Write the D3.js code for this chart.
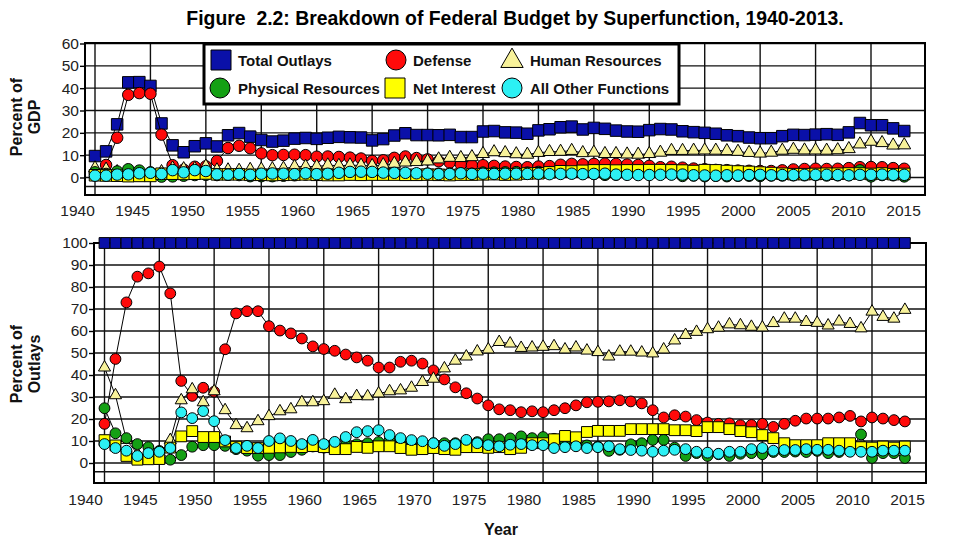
<!DOCTYPE html>
<html><head><meta charset="utf-8">
<script src="https://cdnjs.cloudflare.com/ajax/libs/d3/7.8.5/d3.min.js"></script>
<style>
body{margin:0;background:#fff}
svg{display:block}
text{font-family:"Liberation Sans",Arial,sans-serif}
</style>
</head><body>
<svg id="c" width="979" height="549"></svg>
<script>
// ---------------- DATA ----------------
const years = [1940,1941,1942,1943,1944,1945,1946,1947,1948,1949,
1950,1951,1952,1953,1954,1955,1956,1957,1958,1959,
1960,1961,1962,1963,1964,1965,1966,1967,1968,1969,
1970,1971,1972,1973,1974,1975,1976,1977,1978,1979,
1980,1981,1982,1983,1984,1985,1986,1987,1988,1989,
1990,1991,1992,1993,1994,1995,1996,1997,1998,1999,
2000,2001,2002,2003,2004,2005,2006,2007,2008,2009,
2010,2011,2012,2013];

const seriesNames = ["Total Outlays","Defense","Human Resources","Physical Resources","Net Interest","All Other Functions"];

// Percent of GDP (top panel)
const gdpTotal = [9.6,11.7,23.8,42.6,42.7,41.0,24.2,14.4,11.3,14.0,
15.3,13.9,18.9,19.9,18.3,16.8,16.1,16.5,17.4,17.7,
17.3,17.8,18.2,18.0,17.9,16.6,17.2,18.8,19.8,19.0,
19.0,18.9,19.1,18.1,18.1,20.6,20.8,20.2,20.1,19.6,
21.1,21.6,22.5,22.8,21.5,22.2,21.8,21.0,20.6,20.5,
21.2,21.7,21.5,20.7,20.3,20.0,19.6,18.9,18.5,17.9,
17.6,17.6,18.5,19.1,19.0,19.2,19.4,19.1,20.2,24.4,
23.4,23.4,22.0,20.8];
const gdpDefense = [1.7,5.6,17.8,37.0,37.8,37.5,19.2,5.5,3.5,4.8,
5.0,7.4,13.2,14.2,13.1,10.8,10.0,10.1,10.2,10.0,
9.3,9.4,9.2,8.9,8.5,7.4,7.7,8.8,9.4,8.7,
8.1,7.3,6.7,5.9,5.5,5.5,5.2,4.9,4.7,4.6,
4.9,5.1,5.7,6.1,5.9,6.1,6.2,6.1,5.8,5.6,
5.2,4.6,4.8,4.4,4.0,3.7,3.4,3.3,3.1,3.0,
2.9,2.9,3.2,3.6,3.8,3.9,3.8,3.9,4.2,4.6,
4.7,4.6,4.2,3.9];
const gdpHuman = [4.2,3.6,2.5,1.8,1.5,1.6,2.5,4.1,3.8,3.9,
5.0,3.3,3.3,3.1,3.5,3.6,3.8,4.0,4.8,4.9,
4.9,5.5,5.3,5.5,5.4,5.2,5.6,6.2,6.8,7.0,
7.3,8.2,8.9,8.8,9.2,10.6,11.4,11.0,10.5,10.3,
11.1,11.5,11.6,12.0,11.0,11.2,10.6,10.6,10.4,10.3,
10.6,11.2,12.0,12.0,12.1,12.2,12.1,11.9,11.6,11.1,
10.8,11.2,12.1,12.5,12.2,12.2,12.1,12.3,12.8,14.9,
16.1,15.5,14.4,14.5];
const gdpPhysical = [2.3,1.6,2.7,3.7,3.1,2.3,0.4,0.5,0.8,1.1,
1.2,1.1,1.2,1.1,0.6,0.6,0.6,0.8,1.0,1.3,
1.2,1.4,1.5,1.5,1.6,1.6,1.8,1.8,1.7,1.5,
1.7,1.7,1.7,1.7,1.7,2.2,2.2,2.3,2.4,2.2,
2.5,2.4,2.3,2.0,1.7,1.6,1.2,1.3,1.8,1.8,
2.2,2.3,1.5,0.7,0.9,0.6,0.8,0.6,0.8,0.8,
0.7,0.9,0.9,1.0,1.0,1.1,0.9,1.0,1.1,3.2,
0.5,1.1,1.0,0.5];
const gdpInterest = [1.0,0.9,0.8,0.6,0.7,0.7,1.7,1.7,1.6,1.7,
1.8,1.4,1.4,1.4,1.2,1.2,1.1,1.2,1.3,1.4,
1.2,1.1,1.1,1.3,1.2,1.3,1.3,1.3,1.2,1.2,
1.3,1.2,1.1,1.3,1.3,1.4,1.5,1.3,1.4,1.8,
1.9,2.3,2.8,2.7,3.0,3.2,3.2,3.1,3.2,3.2,
3.3,3.3,3.2,3.1,2.9,3.3,3.2,2.9,2.7,2.5,
2.2,2.0,1.7,1.5,1.5,1.6,1.7,1.7,1.8,1.8,
1.6,1.8,1.5,1.6];
const gdpOther = [0.8,0.8,1.3,1.4,1.9,2.1,1.6,3.3,2.3,3.3,
2.9,1.4,1.3,1.6,1.2,1.7,1.8,1.7,1.5,1.9,
1.5,1.7,2.1,2.5,2.6,2.5,2.2,2.1,2.1,1.9,
1.7,1.5,1.6,1.9,1.6,1.7,1.6,1.7,1.7,1.6,
1.7,1.5,1.6,1.7,1.5,1.6,1.7,1.3,1.2,1.1,
1.1,1.2,1.3,1.3,1.0,0.9,0.8,1.0,0.9,1.1,
1.2,1.0,1.1,1.1,1.2,1.2,1.2,1.1,1.0,1.2,
1.2,1.3,1.2,1.2];

// Percent of Outlays (bottom panel)
const pctTotal = [100,100,100,100,100,100,100,100,100,100,
100,100,100,100,100,100,100,100,100,100,
100,100,100,100,100,100,100,100,100,100,
100,100,100,100,100,100,100,100,100,100,
100,100,100,100,100,100,100,100,100,100,
100,100,100,100,100,100,100,100,100,100,
100,100,100,100,100,100,100,100,100,100,
100,100,100,100];
const pctDefense = [17.8,47.3,73.0,84.7,86.2,89.3,77.1,37.3,30.5,34.2,
32.4,51.7,68.0,69.0,69.0,62.2,60.2,58.9,56.6,53.0,
51.8,51.0,49.3,48.0,46.5,43.4,43.4,46.0,46.5,45.2,
42.1,38.0,34.4,31.7,29.3,26.2,24.4,24.0,23.1,23.5,
23.1,24.0,24.9,26.2,27.6,27.8,28.0,28.5,28.0,27.1,
24.0,20.7,21.7,21.1,19.5,18.4,17.8,18.0,17.2,17.3,
17.8,16.4,17.8,19.2,20.2,20.2,20.2,20.7,21.4,18.9,
20.7,20.2,19.5,18.9];
const pctHuman = [43.4,30.8,10.5,4.2,3.4,3.8,10.4,28.5,33.5,27.6,
32.6,24.0,17.2,15.8,19.0,21.3,23.5,24.4,27.6,27.6,
28.1,31.0,29.0,30.4,30.3,31.6,32.6,33.0,34.2,36.8,
38.3,43.0,46.5,48.4,50.7,51.6,55.0,54.3,52.3,52.5,
52.8,53.1,51.6,52.5,51.1,50.4,48.4,50.6,50.6,50.2,
49.8,51.6,55.7,58.2,59.6,60.8,61.5,63.0,62.6,61.9,
61.6,63.6,65.6,65.6,64.1,63.7,62.5,64.3,63.2,61.2,
68.8,66.4,65.6,69.6];
const pctPhysical = [24.9,13.5,11.3,8.6,7.2,5.5,1.5,3.6,7.4,8.1,
8.1,7.8,6.3,5.6,3.3,3.6,3.6,5.0,6.0,7.5,
7.0,7.8,8.0,8.5,9.0,9.5,10.5,9.5,8.5,8.0,
9.0,9.0,9.0,9.5,9.5,10.8,10.8,11.2,12.1,11.3,
11.8,11.0,10.2,8.8,8.0,7.4,5.5,6.0,8.5,9.0,
10.5,10.5,7.0,3.2,4.5,3.2,4.0,3.2,4.2,4.5,
4.0,5.0,5.0,5.2,5.0,5.5,4.5,5.0,5.5,13.0,
2.3,4.5,4.5,2.3];
const pctInterest = [10.4,8.0,3.2,1.5,1.7,1.8,7.0,12.1,14.5,11.8,
11.8,9.8,7.4,6.8,6.8,6.9,7.1,7.3,7.2,7.7,
7.2,6.3,6.3,7.3,6.9,7.6,7.6,6.8,6.0,6.3,
6.8,6.3,6.0,7.2,7.2,6.9,7.2,6.3,6.9,9.0,
9.0,10.8,12.3,11.7,14.1,14.6,14.6,14.6,15.4,15.4,
15.4,15.4,14.9,14.9,14.5,16.3,16.3,15.4,14.5,14.0,
12.7,11.3,9.0,8.1,8.1,8.1,9.0,9.0,9.0,7.2,
7.0,7.5,7.0,7.5];
const pctOther = [8.6,6.8,5.6,3.2,4.5,5.1,6.8,23.0,20.4,23.6,
19.0,10.4,6.8,7.8,6.8,10.0,11.2,10.0,8.6,10.5,
8.6,9.6,11.8,14.0,14.5,14.9,12.7,11.3,10.4,9.9,
9.0,7.8,8.6,10.5,9.0,8.1,7.6,8.3,8.6,8.1,
8.1,6.8,7.2,7.6,6.8,7.2,7.6,6.3,5.9,5.6,
5.1,5.6,6.0,6.3,5.1,4.7,4.2,5.1,5.1,6.3,
6.8,5.6,5.9,5.9,6.3,6.0,6.0,5.6,5.1,5.1,
5.1,5.6,5.6,5.6];

const xTickLabels = [1940,1945,1950,1955,1960,1965,1970,1975,1980,1985,1990,1995,2000,2005,2010,2015];
const gridYears = [1940,1945,1950,1955,1960,1965,1970,1975,1980,1985,1990,1995,2000,2005,2010];
const gdpTicks = [0,10,20,30,40,50,60];
const outlayTicks = [0,10,20,30,40,50,60,70,80,90,100];

// ---------------- STYLE ----------------
const seriesStyle = [
  {shape: d3.symbolSquare,   fill: "#0a10a8"},
  {shape: d3.symbolCircle,   fill: "#ff0a0a"},
  {shape: d3.symbolTriangle, fill: "#f8f29a"},
  {shape: d3.symbolCircle,   fill: "#14a014"},
  {shape: d3.symbolSquare,   fill: "#ffff00"},
  {shape: d3.symbolCircle,   fill: "#2cf0f4"}
];
function markerSize(shape, s) { // s = approximate width in px
  if (shape === d3.symbolSquare) return s * s;
  if (shape === d3.symbolCircle) return Math.PI * (s / 2) * (s / 2);
  return Math.sqrt(3) / 4 * s * s * 1.25;
}
const FONT = '"Liberation Sans", Arial, sans-serif';

const svg = d3.select("#c");
svg.append("rect").attr("width", 979).attr("height", 549).attr("fill", "#fff");

// ---------------- PANELS ----------------
const panels = [
  {
    frame: {l: 85, r: 925, t: 43, b: 195},
    x: d3.scaleLinear().domain([1940, 2010]).range([95, 871]),
    xLab: d3.scaleLinear().domain([1940, 2015]).range([77, 903]),
    y: d3.scaleLinear().domain([0, 60]).range([177.5, 43.5]),
    ticks: gdpTicks, extraLine: -4, labY: 219, mk: 11.5,
    data: [gdpTotal, gdpDefense, gdpHuman, gdpPhysical, gdpInterest, gdpOther]
  },
  {
    frame: {l: 94, r: 926, t: 243, b: 483},
    x: d3.scaleLinear().domain([1940, 2010]).range([104.5, 872]),
    xLab: d3.scaleLinear().domain([1940, 2015]).range([85, 907]),
    y: d3.scaleLinear().domain([0, 100]).range([463, 243]),
    ticks: outlayTicks, extraLine: -4, labY: 508, mk: 10.8,
    data: [pctTotal, pctDefense, pctHuman, pctPhysical, pctInterest, pctOther]
  }
];

panels.forEach(p => {
  const g = svg.append("g");
  const f = p.frame;
  // grid
  g.selectAll("line.vg").data(gridYears).join("line")
    .attr("x1", d => p.x(d)).attr("x2", d => p.x(d))
    .attr("y1", f.t).attr("y2", f.b)
    .attr("stroke", "#111").attr("stroke-width", 1.4);
  g.selectAll("line.hg").data(p.ticks.concat([p.extraLine])).join("line")
    .attr("x1", f.l).attr("x2", f.r)
    .attr("y1", d => p.y(d)).attr("y2", d => p.y(d))
    .attr("stroke", "#111").attr("stroke-width", 1.4);
  // frame
  g.append("rect").attr("x", f.l).attr("y", f.t)
    .attr("width", f.r - f.l).attr("height", f.b - f.t)
    .attr("fill", "none").attr("stroke", "#000").attr("stroke-width", 2);
  // y axis
  const ya = g.append("g").attr("transform", `translate(${f.l},0)`)
    .call(d3.axisLeft(p.y).tickValues(p.ticks).tickSize(5).tickPadding(1).tickFormat(d3.format("d")));
  ya.select(".domain").remove();
  ya.selectAll("line").attr("stroke", "#000").attr("stroke-width", 1.4);
  ya.selectAll("text").attr("font-family", FONT).attr("font-size", 15.5).attr("fill", "#222");
  // x axis labels
  const xa = g.append("g").attr("transform", `translate(0,${p.labY - 14})`)
    .call(d3.axisBottom(p.xLab).tickValues(xTickLabels).tickSize(0).tickPadding(0).tickFormat(d3.format("d")));
  xa.select(".domain").remove();
  xa.selectAll("text").attr("font-family", FONT).attr("font-size", 15.5).attr("fill", "#222")
    .attr("dy", "0.71em");
  // series
  p.data.forEach((vals, si) => {
    const st = seriesStyle[si];
    const pts = years.map((yr, i) => [yr, vals[i]]);
    g.append("path").datum(pts)
      .attr("d", d3.line().x(d => p.x(d[0])).y(d => p.y(d[1])))
      .attr("fill", "none").attr("stroke", "#000").attr("stroke-width", 1);
    g.selectAll(null).data(pts).join("path")
      .attr("transform", d => `translate(${p.x(d[0])},${p.y(d[1])})`)
      .attr("d", d3.symbol().type(st.shape).size(markerSize(st.shape, p.mk)))
      .attr("fill", st.fill).attr("stroke", "#000").attr("stroke-width", 1);
  });
});

// ---------------- LEGEND ----------------
const lg = svg.append("g");
lg.append("rect").attr("x", 204).attr("y", 44).attr("width", 475).attr("height", 60)
  .attr("fill", "#fff").attr("stroke", "#000").attr("stroke-width", 3);
const legendPos = [
  {mx: 221, my: 60, tx: 238, ty: 66},
  {mx: 396, my: 60, tx: 413, ty: 66},
  {mx: 512, my: 61, tx: 530, ty: 66},
  {mx: 220, my: 88, tx: 238, ty: 94},
  {mx: 395, my: 88, tx: 413, ty: 94},
  {mx: 512, my: 88, tx: 530, ty: 94}
];
seriesNames.forEach((name, i) => {
  const st = seriesStyle[i], lp = legendPos[i];
  lg.append("path").attr("transform", `translate(${lp.mx},${lp.my})`)
    .attr("d", d3.symbol().type(st.shape).size(markerSize(st.shape, 20)))
    .attr("fill", st.fill).attr("stroke", "#000").attr("stroke-width", 1);
  lg.append("text").attr("x", lp.tx).attr("y", lp.ty).text(name)
    .attr("font-family", FONT).attr("font-size", 15).attr("font-weight", "bold").attr("fill", "#111");
});

// ---------------- TITLES ----------------
svg.append("text").attr("x", 515).attr("y", 25).attr("text-anchor", "middle")
  .attr("font-family", FONT).attr("font-size", 19.4).attr("font-weight", "bold")
  .style("white-space", "pre")
  .text("Figure  2.2: Breakdown of Federal Budget by Superfunction, 1940-2013.");

function yTitle(cy, lines) {
  const t = svg.append("text").attr("transform", `translate(0,${cy}) rotate(-90)`)
    .attr("text-anchor", "middle").attr("font-family", FONT).attr("font-size", 16)
    .attr("font-weight", "bold").attr("fill", "#111");
  lines.forEach((l, i) => t.append("tspan").attr("x", 0).attr("y", 22 + i * 18).text(l));
}
yTitle(117, ["Percent of", "GDP"]);
yTitle(364, ["Percent of", "Outlays"]);

svg.append("text").attr("x", 501).attr("y", 535).attr("text-anchor", "middle")
  .attr("font-family", FONT).attr("font-size", 16).attr("font-weight", "bold").attr("fill", "#111")
  .text("Year");
</script>
</body></html>
